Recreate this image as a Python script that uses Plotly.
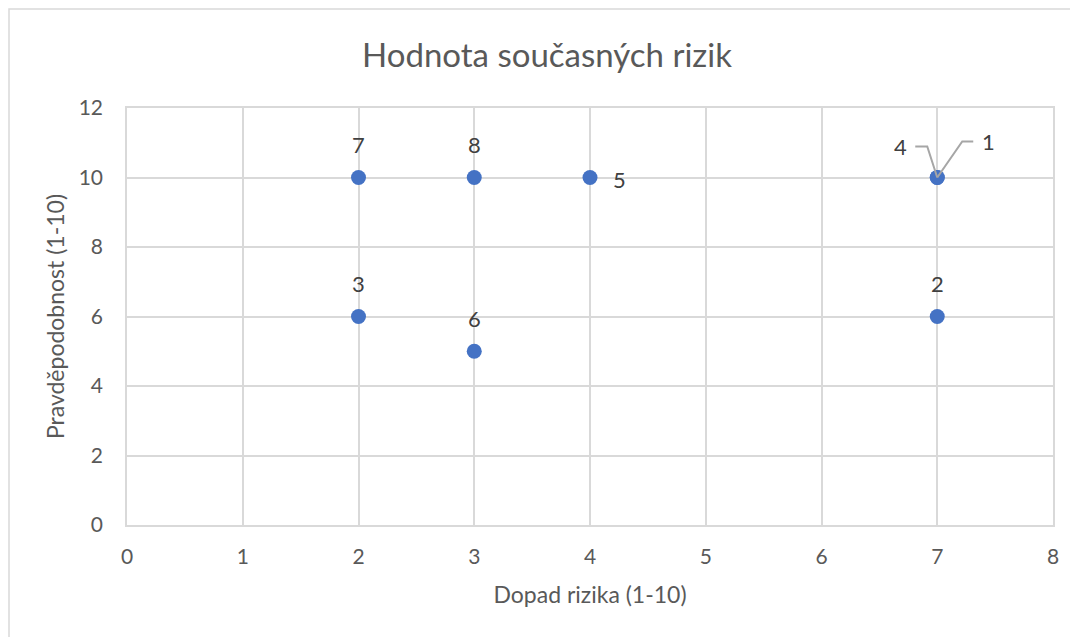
import plotly.graph_objects as go

impact = [7, 7, 2, 7, 4, 3, 2, 3]
probability = [10, 6, 6, 10, 10, 5, 10, 10]
labels = ["1", "2", "3", "4", "5", "6", "7", "8"]
positions = ["none", "top center", "top center", "none", "middle right",
             "top center", "top center", "top center"]

title = "Hodnota současných rizik"
x_title = "Dopad rizika (1-10)"
y_title = "Pravděpodobnost (1-10)"

FONT = "Lato"
TXT = "#595959"
LBL = "#404040"
GRID = "#d9d9d9"
BLUE = "#4472C4"

# page body has an 8px offset; margins compensate
ML, MR, MT, MB = 119, 33, 100, 120
W, H = 1078, 637
PW, PH = W - ML - MR, H - MT - MB

fig = go.Figure()

fig.add_trace(go.Scatter(
    x=impact, y=probability, mode="markers",
    marker=dict(size=15, color=BLUE),
    hoverinfo="skip", showlegend=False,
))

for xi, yi, lab, pos in zip(impact, probability, labels, positions):
    if pos == "top center":
        fig.add_annotation(x=xi, y=yi, text=lab, showarrow=False,
                           yshift=33, font=dict(family=FONT, size=22, color=LBL))
    elif pos == "middle right":
        fig.add_annotation(x=xi, y=yi, text=lab, showarrow=False,
                           xshift=29, yshift=-2, font=dict(family=FONT, size=22, color=LBL))

lead = {"4": ("M 0,0 L -10,31 L -22,31", -37, 31),
        "1": ("M 0,0 L 25,36 L 36,36", 51, 36)}
for xi, yi, lab in zip(impact, probability, labels):
    if lab in lead:
        path, dx, dy = lead[lab]
        fig.add_shape(type="path", xref="x", yref="y", xsizemode="pixel", ysizemode="pixel",
                      xanchor=xi, yanchor=yi, path=path,
                      line=dict(color="#a6a6a6", width=2))
        fig.add_annotation(x=xi, y=yi, text=lab, showarrow=False,
                           xshift=dx, yshift=dy,
                           font=dict(family=FONT, size=22, color=LBL))

# outer chart border
fig.add_shape(type="rect", xref="paper", yref="paper",
              x0=(1 - ML) / PW, x1=1.2, y0=-0.5, y1=1 + (MT - 1) / PH,
              line=dict(color=GRID, width=1.5), layer="below")

fig.update_layout(
    width=W, height=H,
    margin=dict(l=ML, r=MR, t=MT, b=MB),
    paper_bgcolor="white", plot_bgcolor="white",
    title=dict(text=title, x=0.5, xanchor="center", y=1 - 47 / H, yanchor="middle",
               font=dict(family=FONT, size=33, color=TXT)),
    font=dict(family=FONT, color=TXT),
    xaxis=dict(range=[0, 8], dtick=1, showgrid=True, gridcolor=GRID, gridwidth=1.5,
               zeroline=False, showline=True, linecolor=GRID, linewidth=1.5, mirror=True,
               ticks="", tickfont=dict(family=FONT, size=21, color=TXT), ticklabelstandoff=12,
               title=dict(text=x_title, font=dict(family=FONT, size=23, color=TXT), standoff=20)),
    yaxis=dict(range=[0, 12], dtick=2, showgrid=True, gridcolor=GRID, gridwidth=1.5,
               zeroline=False, showline=True, linecolor=GRID, linewidth=1.5, mirror=True,
               ticks="", tickfont=dict(family=FONT, size=21, color=TXT), ticklabelstandoff=18,
               title=dict(text=y_title, font=dict(family=FONT, size=23, color=TXT), standoff=8)),
)

fig.write_html("out.html")
